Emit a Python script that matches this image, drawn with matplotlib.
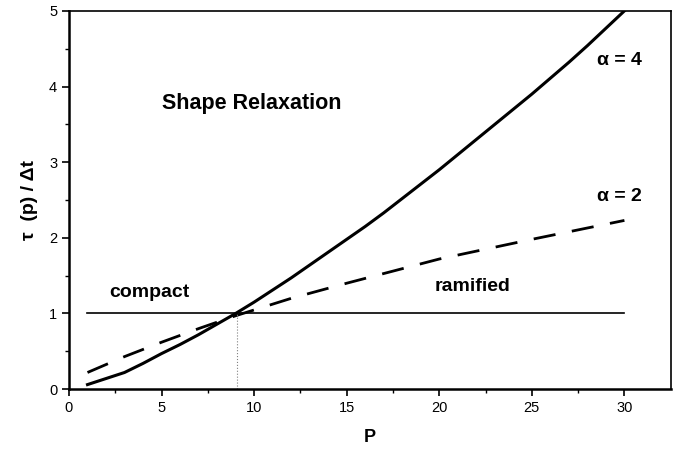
import matplotlib.pyplot as plt

plt.rcParams['font.family'] = ['Liberation Sans', 'DejaVu Sans']

# alpha = 4 (solid)
p4 = [1, 2, 3, 4, 5, 6, 7, 8, 9, 10, 11, 12, 13, 14, 15, 16, 17, 18, 19, 20,
      21, 22, 23, 24, 25, 26, 27, 28, 29, 30]
tau4 = [0.06, 0.14, 0.22, 0.34, 0.47, 0.59, 0.72, 0.86, 1.0, 1.15, 1.31, 1.47,
        1.64, 1.81, 1.98, 2.15, 2.33, 2.52, 2.71, 2.9, 3.1, 3.3, 3.5, 3.7, 3.9,
        4.11, 4.32, 4.54, 4.77, 5.0]

# alpha = 2 (dashed)
p2 = [1, 3, 5, 7, 9, 12, 15, 20, 25, 30]
tau2 = [0.22, 0.43, 0.62, 0.8, 0.97, 1.2, 1.4, 1.72, 1.98, 2.23]

# threshold line
p_line = [1, 30]
tau_line = [1, 1]
p_cross = 9.1

fig = plt.figure(figsize=(6.83, 4.53), dpi=100)
ax = fig.add_axes([0.101, 0.141, 0.881, 0.835])

ax.plot(p4, tau4, color='black', lw=2.2)
ax.plot(p2, tau2, color='black', lw=2, dashes=(8, 6))
ax.plot(p_line, tau_line, color='black', lw=1.2)
ax.plot([p_cross, p_cross], [0, 1], color='grey', lw=0.8, ls=':')

ax.set_xlim(0, 32.5)
ax.set_ylim(0, 5)
ax.set_xticks([0, 5, 10, 15, 20, 25, 30])
ax.set_xticks([2.5, 7.5, 12.5, 17.5, 22.5, 27.5], minor=True)
ax.set_yticks([0, 1, 2, 3, 4, 5])
ax.set_yticks([0.5, 1.5, 2.5, 3.5, 4.5], minor=True)
ax.tick_params(direction='out', length=5, width=1.2, labelsize=10.5)
ax.tick_params(which='minor', direction='out', length=3, width=1)
for s in ax.spines.values():
    s.set_linewidth(1.2)
ax.spines['left'].set_linewidth(1.8)
ax.spines['bottom'].set_linewidth(1.8)

ax.set_xlabel('P', fontsize=13, fontweight='bold', labelpad=10)
ax.set_ylabel('τ  (p) / Δt', fontsize=14, fontweight='bold', labelpad=8)

ax.text(5.0, 3.78, 'Shape Relaxation', fontsize=15.5, fontweight='bold', va='center')
ax.text(2.15, 1.28, 'compact', fontsize=14, fontweight='bold', va='center')
ax.text(19.75, 1.35, 'ramified', fontsize=14, fontweight='bold', va='center')
ax.text(28.5, 4.35, 'α = 4', fontsize=14, fontweight='bold', va='center')
ax.text(28.5, 2.54, 'α = 2', fontsize=14, fontweight='bold', va='center')

fig.savefig('out.png', dpi=100)
